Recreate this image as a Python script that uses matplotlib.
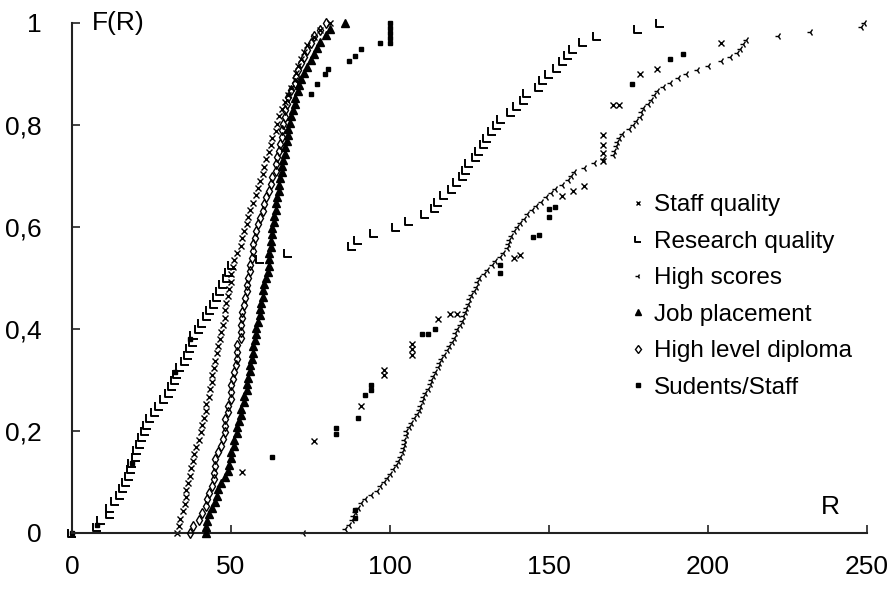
import numpy as np
import matplotlib.pyplot as plt
from matplotlib.path import Path

plt.rcParams['font.family'] = ['Liberation Sans', 'DejaVu Sans']

job_R = [42, 42, 42.5, 43, 44, 45,
         45.5, 46, 47, 48, 49,
         49.5, 50, 50, 51, 51, 52, 52, 52.5,
         53, 53, 54, 54, 55, 55, 55.5, 56,
         56, 56.5, 57, 57, 57.5, 58, 58, 58.5, 59,
         59, 59.5, 60, 60, 60.5, 61, 61.5, 62,
         62, 62, 62.5, 62.5, 63, 63,
         63.5, 63.5, 64, 64, 64.5, 65, 65,
         65.5, 66, 66, 66.5, 67,
         67, 67.5, 68, 68, 68.5, 69,
         69.5, 70, 70, 71, 71.5, 72,
         73, 74, 75,
         76, 77, 78, 80, 81, 86]

diploma_R = [37, 38, 40, 41, 42,
             42.5, 43, 44, 44.5, 44.5, 45, 45,
             46, 47, 47.5, 48, 48, 48, 49, 49, 50, 50, 50, 50.5, 51,
             51.5, 52, 52, 52, 53, 53, 53, 53.5, 53.5,
             54, 54.5, 55, 55, 55.5, 56,
             56, 56.5, 57, 57, 57.5, 58,
             58.5, 59, 60, 60.5, 61, 62, 62.5, 63,
             64, 64, 64.5, 65, 65.5, 66,
             66, 66.5, 67, 67, 67.5,
             68, 69, 70, 70.5, 71, 72, 73, 74,
             75, 76, 78, 80]

staff_R = [33, 33.5, 34, 35,
           35.5, 36, 36, 36.5, 37,
           37.5, 38, 38.5, 39, 40, 40.5,
           41, 41.5, 42, 42, 43, 43.5,
           44, 44, 44.5, 45, 45.5,
           46, 46.5, 47, 47.5,
           48, 48, 48.5, 49, 49.5, 50, 50, 50.5,
           51, 52, 53, 53.5, 54, 55, 55.5, 56, 57,
           58, 58.5, 59, 60, 60.5, 61, 62,
           62.5, 63, 64, 64.5, 65, 66, 67, 68,
           69, 70, 70.5, 71, 72, 73, 74,
           76, 78, 81]

# scattered staff quality points on the right
staff_pts_R = [53.5, 76, 91, 98, 98, 107, 107, 107, 115, 119, 121, 139, 141,
               154, 157.5, 161, 167, 167, 167, 167, 170, 172, 178.5, 184, 204]
staff_pts_F = [0.12, 0.18, 0.25, 0.31, 0.32, 0.35, 0.36, 0.37, 0.42, 0.43, 0.43,
               0.54, 0.545, 0.66, 0.67, 0.68, 0.73, 0.745, 0.76, 0.78, 0.84,
               0.84, 0.90, 0.91, 0.96]

research_R = [0, 8, 9, 12, 12, 13.5, 15, 16, 17, 18,
              18.5, 19, 20, 20.5, 21.5, 22, 23, 23.5, 24.5, 26,
              27.5, 29, 30.5, 31.5, 32.5, 33, 34, 35.5, 36.5, 37,
              38, 38.5, 40, 41, 42.5, 43.5, 44.5, 45.5, 46.5, 47.5,
              48.7, 49.5, 50.3,
              59, 68, 88, 90, 95, 102, 106, 111, 114, 115,
              117, 119.5, 121, 123, 124, 125, 127, 128, 129.5, 130.5,
              132, 133.6, 135, 138, 140, 142, 143, 147, 148, 150,
              152.5, 154.5, 156, 157.5, 160.7, 165, 178, 185]

scores_R = [72.5, 86, 87, 88, 88.5, 89, 90, 91, 92, 94, 96,
            97, 98, 99, 100, 101, 102, 102.5, 103, 103.7,
            104, 104.5, 104.5, 105, 105, 106, 106.5, 107.5, 108.5, 109, 109.5, 110,
            110.5, 111, 112, 112.5, 113, 113.5, 114, 115, 115.5, 116,
            117, 118, 118.5, 119.5, 120, 120.5, 121,
            122, 122.5, 123, 123.5, 124, 124.5,
            125, 125.5, 126.5, 127, 127.5, 128,
            129.5, 130.5, 132, 133, 134.5, 135.5, 136.8,
            137, 137.5, 138, 139, 140, 141, 142, 143, 144.5, 146,
            147.5, 149, 150.5, 152, 154, 156, 157, 158,
            161, 164, 167, 170, 170.5, 171, 171.5, 172, 173, 175, 176.5,
            177.5, 178.5, 179, 179.6, 181, 182, 183, 184,
            186, 188, 190.5, 193, 196.5, 200, 204, 207, 209,
            210, 211, 212, 222, 232, 248, 249]

students_R = [0, 8, 19, 32.4, 37, 63, 83, 83, 89, 89, 90, 92, 94, 94,
              110, 112, 114, 134.5, 134.5, 145, 147, 150, 150, 152,
              75, 77, 79.5, 80.5, 87, 89, 91, 97, 100, 100, 100, 100, 100,
              176, 188, 192]
students_F = [0.0, 0.015, 0.137, 0.315, 0.38, 0.15, 0.195, 0.205, 0.03, 0.045,
              0.225, 0.27, 0.28, 0.29, 0.39, 0.39, 0.40, 0.51, 0.525, 0.58,
              0.585, 0.62, 0.635, 0.64,
              0.86, 0.88, 0.90, 0.91, 0.925, 0.935, 0.95, 0.96, 0.96, 0.97,
              0.98, 0.99, 1.0, 0.88, 0.93, 0.94]

labels = ['Staff quality', 'Research quality', 'High scores',
          'Job placement', 'High level diploma', 'Sudents/Staff']
yticks = [0, 0.2, 0.4, 0.6, 0.8, 1]
ytick_labels = ['0', '0,2', '0,4', '0,6', '0,8', '1']
xticks = [0, 50, 100, 150, 200, 250]


def ecdf(vals):
    r = np.sort(np.array(vals, dtype=float))
    f = np.arange(len(r)) / (len(r) - 1)
    return r, f


ell = Path([(-1, 1), (-1, -1), (1, -1)], [Path.MOVETO, Path.LINETO, Path.LINETO])

fig = plt.figure(figsize=(8.9, 5.9), dpi=100)
ax = fig.add_axes([72 / 890, 57 / 590, 795 / 890, 510 / 590])

sr, sf = ecdf(staff_R)
ax.plot(np.concatenate([sr, staff_pts_R]), np.concatenate([sf, staff_pts_F]),
        ls='none', marker='x', ms=4, mew=1.0, color='black', label=labels[0],
        clip_on=False)

rr, rf = ecdf(research_R)
ax.plot(rr, rf, ls='none', marker=ell, ms=6, mew=1.4, mfc='none',
        color='black', label=labels[1], clip_on=False)

hr, hf = ecdf(scores_R)
ax.plot(hr, hf, ls='none', marker='3', ms=5, mew=1.0, color='black',
        label=labels[2], clip_on=False)

jr, jf = ecdf(job_R)
ax.plot(jr, jf, ls='none', marker='^', ms=5.5, color='black',
        label=labels[3], clip_on=False, zorder=3)

dr, df = ecdf(diploma_R)
ax.plot(dr, df, ls='none', marker='d', ms=5.5, mew=1.0, mfc='none',
        color='black', label=labels[4], clip_on=False, zorder=4)

ax.plot(students_R, students_F, ls='none', marker='s', ms=3,
        color='black', label=labels[5], clip_on=False)

ax.set_xlim(0, 250)
ax.set_ylim(0, 1)
ax.set_xticks(xticks)
ax.set_yticks(yticks)
ax.set_yticklabels(ytick_labels)
for s in ['top', 'right']:
    ax.spines[s].set_visible(False)
for s in ['left', 'bottom']:
    ax.spines[s].set_linewidth(1.5)
    ax.spines[s].set_color('#222222')
ax.tick_params(axis='both', direction='in', length=6, width=1.2,
               color='#222222', labelsize=19)
ax.tick_params(axis='y', pad=22)
ax.tick_params(axis='x', pad=16)

ax.text(6.3, 1.0, 'F(R)', ha='left', va='center', fontsize=19)
ax.text(238.5, 0.05, 'R', ha='center', va='center', fontsize=19)

ax.legend(loc='upper left', bbox_to_anchor=(632 / 890, 1 - 194 / 590),
          bbox_transform=fig.transFigure, frameon=False, fontsize=17.5,
          handlelength=0.5, handletextpad=0.4, labelspacing=0.6,
          borderpad=0, borderaxespad=0, markerscale=0.8)

fig.savefig('out.png', dpi=100)
